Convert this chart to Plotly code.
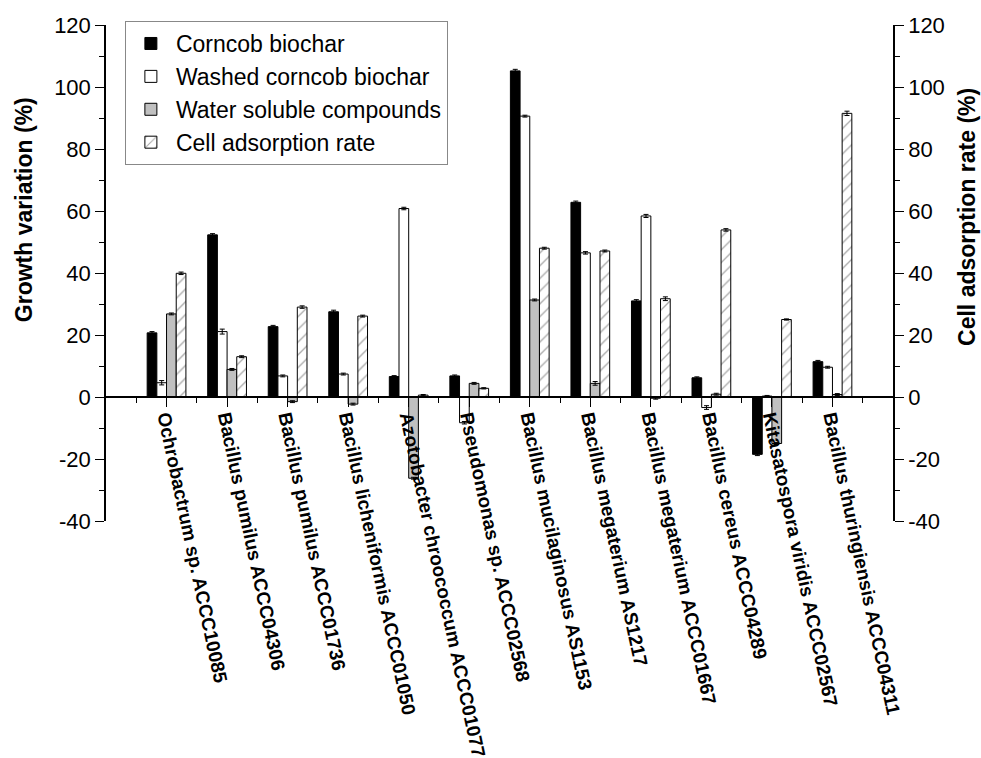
import plotly.graph_objects as go

categories = [
    "Ochrobactrum sp. ACCC10085",
    "Bacillus pumilus ACCC04306",
    "Bacillus pumilus ACCC01736",
    "Bacillus licheniformis ACCC01050",
    "Azotobacter chroococcum ACCC01077",
    "Pseudomonas sp. ACCC02568",
    "Bacillus mucilaginosus AS1153",
    "Bacillus megaterium AS1217",
    "Bacillus megaterium ACCC01667",
    "Bacillus cereus ACCC04289",
    "Kitasatospora viridis ACCC02567",
    "Bacillus thuringiensis ACCC04311",
]
corncob = [20.7, 52.3, 22.7, 27.5, 6.6, 6.8, 105.2, 62.8, 31.0, 6.2, -18.5, 11.4]
corncob_err = [0.4, 0.4, 0.4, 0.5, 0.3, 0.3, 0.5, 0.4, 0.4, 0.3, 0.4, 0.4]
washed = [4.6, 21.1, 6.8, 7.4, 60.8, -8.3, 90.6, 46.5, 58.4, -3.4, 0.3, 9.6]
washed_err = [0.7, 0.8, 0.3, 0.3, 0.4, 0.4, 0.3, 0.4, 0.5, 0.6, 0.2, 0.3]
soluble = [26.8, 8.9, -1.5, -2.3, -26.2, 4.4, 31.3, 4.4, -0.4, 0.9, -15.0, 0.8]
soluble_err = [0.3, 0.3, 0.3, 0.3, 0.3, 0.3, 0.3, 0.6, 0.3, 0.3, 0.3, 0.3]
adsorption = [39.9, 13.0, 29.0, 26.1, 0.6, 2.8, 48.0, 47.1, 31.7, 53.9, 25.0, 91.5]
adsorption_err = [0.4, 0.3, 0.4, 0.3, 0.2, 0.2, 0.3, 0.3, 0.6, 0.4, 0.2, 0.7]

y_ticks = [-40, -20, 0, 20, 40, 60, 80, 100, 120]
y_tick_labels = [str(v) for v in y_ticks]

xpos = list(range(len(categories)))
FONT = "Liberation Sans, Arial, sans-serif"
BAR_W = 0.16

fig = go.Figure()

def add_bar(name, vals, errs, k, fill, yaxis="y", pattern=None):
    marker = dict(color=fill, line=dict(color="black", width=1))
    if pattern:
        marker["pattern"] = pattern
    fig.add_trace(go.Bar(
        x=xpos, y=vals, name=name, yaxis=yaxis,
        width=BAR_W, offset=-2 * BAR_W + k * BAR_W,
        marker=marker,
        error_y=dict(type="data", array=errs, color="black", thickness=1, width=2.5),
    ))

add_bar("Corncob biochar", corncob, corncob_err, 0, "black")
add_bar("Washed corncob biochar", washed, washed_err, 1, "white")
add_bar("Water soluble compounds", soluble, soluble_err, 2, "#c0c0c0")
add_bar("Cell adsorption rate", adsorption, adsorption_err, 3, "white", yaxis="y2",
        pattern=dict(shape="/", fgcolor="#555555", bgcolor="white", size=9, solidity=0.15))

yax = dict(
    range=[y_ticks[0], y_ticks[-1]], tickmode="array", tickvals=y_ticks, ticktext=y_tick_labels,
    ticks="outside", ticklen=9, tickwidth=1.2, tickcolor="black",
    minor=dict(ticks="outside", ticklen=5, dtick=10, tick0=0, tickcolor="black", tickwidth=1.2),
    showline=True, linecolor="black", linewidth=1.5,
    showgrid=False, zeroline=False, automargin=False,
    tickfont=dict(family=FONT, size=22, color="black"),
)

fig.update_layout(
    width=981, height=758,
    margin=dict(l=106, r=88, t=25, b=237),
    paper_bgcolor="white", plot_bgcolor="white",
    font=dict(family=FONT, color="black"),
    showlegend=True,
    legend=dict(
        x=0.024, y=1.008, xanchor="left", yanchor="top",
        bgcolor="white", bordercolor="#888888", borderwidth=1,
        font=dict(family=FONT, size=23, color="black"),
        itemwidth=40, tracegroupgap=0,
    ),
    xaxis=dict(
        range=[-1, len(categories)],
        tickmode="array", tickvals=xpos, ticktext=categories, tickangle=78,
        ticks="outside", ticklen=9, tickwidth=1.2, tickcolor="black",
        ticklabelstandoff=-8,
        minor=dict(ticks="outside", ticklen=5, tickvals=[i + 0.5 for i in range(-1, len(categories))],
                   tickcolor="black", tickwidth=1.2),
        showline=True, linecolor="black", linewidth=1.5,
        anchor="free", position=(0 - y_ticks[0]) / (y_ticks[-1] - y_ticks[0]),
        showgrid=False, zeroline=False, automargin=False,
        tickfont=dict(family=FONT, size=19, color="black", weight="bold"),
    ),
    yaxis=dict(**yax),
    yaxis2=dict(**yax, overlaying="y", side="right", anchor="x"),
    annotations=[
        dict(text="<b>Growth variation (%)</b>", textangle=-90, xref="paper", yref="paper",
             x=-0.104, y=0.627, xanchor="center", yanchor="middle", showarrow=False,
             font=dict(family=FONT, size=23, color="black")),
        dict(text="<b>Cell adsorption rate (%)</b>", textangle=-90, xref="paper", yref="paper",
             x=1.094, y=0.613, xanchor="center", yanchor="middle", showarrow=False,
             font=dict(family=FONT, size=23, color="black")),
    ],
)

fig.write_html(
    "out.html",
    config={"displayModeBar": False},
    post_script="document.body.style.margin='0';document.body.style.overflow='hidden';",
)
